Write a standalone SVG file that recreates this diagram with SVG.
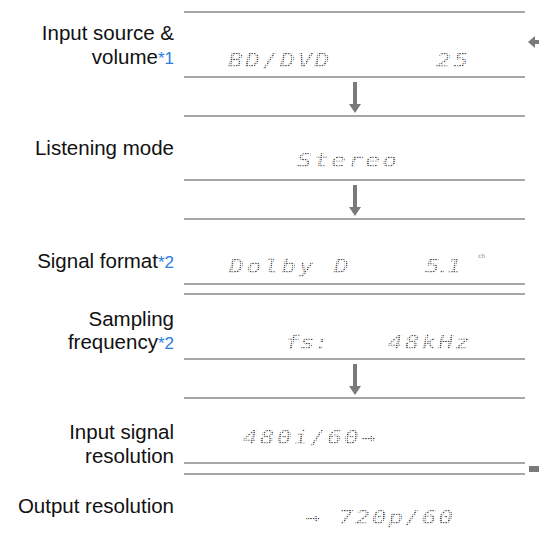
<svg xmlns="http://www.w3.org/2000/svg" width="539" height="533" viewBox="0 0 539 533">
<style>
.lbl{font-family:"Liberation Sans",Arial,sans-serif;font-size:20.5px;fill:#111;text-anchor:end}
.ref{fill:#2a7de1;font-size:17px}
.disp{font-family:"DejaVu Sans Mono","Liberation Mono",monospace;font-style:italic;font-size:19px;fill:url(#dots)}
.rule{stroke:#8a8a8a;stroke-width:1.6}
.arr{fill:#7a7a7a}
</style>
<defs>
<pattern id="dots" width="2" height="2" patternUnits="userSpaceOnUse">
<rect width="1.2" height="1.2" fill="#444"/>
</pattern>
<path id="down" d="M-2,0 H2 V22 H6 L0,31 L-6,22 H-2 Z"/>
</defs>
<g id="rules">
<line class="rule" x1="184" y1="12" x2="525" y2="12"/>
<line class="rule" x1="184" y1="77" x2="525" y2="77"/>
<line class="rule" x1="184" y1="116" x2="525" y2="116"/>
<line class="rule" x1="184" y1="180" x2="525" y2="180"/>
<line class="rule" x1="184" y1="219" x2="525" y2="219"/>
<line class="rule" x1="184" y1="284" x2="525" y2="284"/>
<line class="rule" x1="184" y1="294" x2="525" y2="294"/>
<line class="rule" x1="184" y1="359" x2="525" y2="359"/>
<line class="rule" x1="184" y1="398" x2="525" y2="398"/>
<line class="rule" x1="184" y1="463" x2="525" y2="463"/>
<line class="rule" x1="184" y1="474" x2="525" y2="474"/>
</g>
<g id="connectors">
<use href="#down" class="arr" x="355" y="82"/>
<use href="#down" class="arr" x="355" y="185"/>
<use href="#down" class="arr" x="355" y="364"/>
<path class="arr" d="M528,42 L535,36 V40 H539 V44 H535 V48 Z"/>
<rect class="arr" x="529" y="466" width="10" height="6"/>
</g>
<g id="input-source">
<text class="lbl" x="174" y="40">Input source &amp;</text>
<text class="lbl" x="174" y="64">volume<tspan class="ref">*1</tspan></text>
<g transform="translate(228,67) scale(1.3,1)"><text class="disp" x="0" y="0" textLength="78" lengthAdjust="spacing">BD/DVD</text></g>
<g transform="translate(436,67) scale(1.3,1)"><text class="disp" x="0" y="0" textLength="25" lengthAdjust="spacing">25</text></g>
</g>
<g id="listening-mode">
<text class="lbl" x="174" y="155">Listening mode</text>
<g transform="translate(297,167) scale(1.3,1)"><text class="disp" x="0" y="0" textLength="77" lengthAdjust="spacing">Stereo</text></g>
</g>
<g id="signal-format">
<text class="lbl" x="174" y="268">Signal format<tspan class="ref">*2</tspan></text>
<g transform="translate(229,273) scale(1.3,1)"><text class="disp" x="0" y="0" textLength="92" lengthAdjust="spacing">Dolby D</text></g>
<g transform="translate(425,273) scale(1.3,1)"><text class="disp" x="0" y="0" textLength="28" lengthAdjust="spacing">5.1</text></g>
<text x="478" y="258" style="font-family:'DejaVu Sans Mono',monospace;font-size:6px;fill:#888">ch</text>
</g>
<g id="sampling-frequency">
<text class="lbl" x="174" y="326">Sampling</text>
<text class="lbl" x="174" y="349">frequency<tspan class="ref">*2</tspan></text>
<g transform="translate(285,349) scale(1.3,1)"><text class="disp" x="0" y="0" textLength="34" lengthAdjust="spacing">fs:</text></g>
<g transform="translate(388,349) scale(1.3,1)"><text class="disp" x="0" y="0" textLength="63" lengthAdjust="spacing">48kHz</text></g>
</g>
<g id="input-resolution">
<text class="lbl" x="174" y="439">Input signal</text>
<text class="lbl" x="174" y="463">resolution</text>
<g transform="translate(243,444) scale(1.3,1)"><text class="disp" x="0" y="0" textLength="102" lengthAdjust="spacing">480i/60→</text></g>
</g>
<g id="output-resolution">
<text class="lbl" x="174" y="513">Output resolution</text>
<g transform="translate(305,524) scale(1.3,1)"><text class="disp" x="0" y="0" textLength="114" lengthAdjust="spacing">→ 720p/60</text></g>
</g>
</svg>
